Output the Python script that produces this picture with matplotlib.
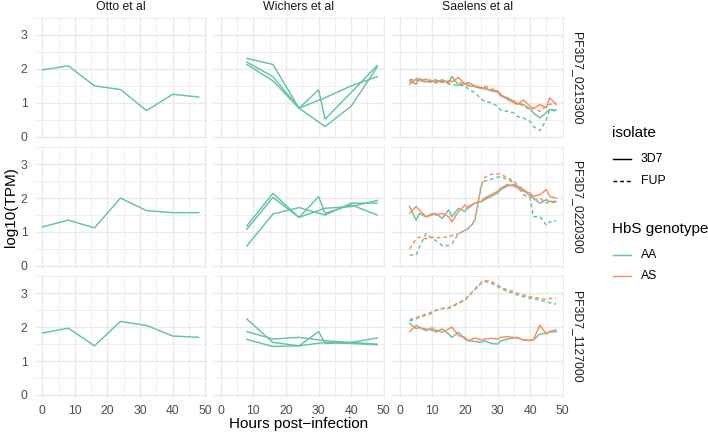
import matplotlib
matplotlib.use("Agg")
import matplotlib.pyplot as plt
from matplotlib.lines import Line2D

plt.rcParams['font.family'] = ['Liberation Sans', 'DejaVu Sans']

# ---------------- data ----------------
studies = ["Otto et al", "Wichers et al", "Saelens et al"]
genes = ["PF3D7_0215300", "PF3D7_0220300", "PF3D7_1127000"]

# Otto et al (single AA 3D7 series)
otto_t = [0, 8, 16, 24, 32, 40, 48]
otto_g1 = [1.97, 2.09, 1.50, 1.39, 0.77, 1.25, 1.17]
otto_g2 = [1.15, 1.35, 1.12, 2.00, 1.63, 1.57, 1.57]
otto_g3 = [1.83, 1.97, 1.45, 2.17, 2.05, 1.74, 1.70]

# Wichers et al (three AA 3D7 replicates)
wich_t_a = [8, 16, 24, 30, 32, 40, 48]
wich_t_b = [8, 16, 24, 32, 40, 48]
wich_g1_a = [2.31, 2.13, 0.84, 1.38, 0.52, 1.30, 2.10]
wich_g1_b = [2.20, 1.77, 0.84, 1.15, 1.50, 1.77]
wich_g1_c = [2.13, 1.65, 0.84, 0.30, 0.90, 2.05]
wich_g2_a = [1.18, 2.14, 1.43, 2.04, 1.55, 1.80, 1.50]
wich_g2_b = [1.08, 2.02, 1.43, 1.70, 1.75, 1.93]
wich_g2_c = [0.59, 1.53, 1.72, 1.50, 1.85, 1.85]
wich_g3_a = [2.24, 1.55, 1.45, 1.87, 1.52, 1.55, 1.50]
wich_g3_b = [1.87, 1.65, 1.70, 1.60, 1.55, 1.68]
wich_g3_c = [1.64, 1.43, 1.45, 1.55, 1.52, 1.48]

# Saelens et al (3D7 / FUP isolates x AA / AS genotypes)
sael_t = [3, 5, 6, 8, 10, 11, 13, 15, 16, 18, 20, 21, 23, 25, 26, 28, 30, 31,
          33, 35, 36, 38, 40, 41, 43, 45, 46, 48]
sael_g1_3d7_aa = [1.65, 1.55, 1.72, 1.62, 1.65, 1.60, 1.68, 1.58, 1.78, 1.52, 1.58, 1.50, 1.48, 1.42,
                  1.45, 1.35, 1.32, 1.20, 1.15, 1.05, 0.98, 0.95, 0.82, 0.70, 0.55, 0.72, 0.80, 0.78]
sael_g1_3d7_as = [1.55, 1.70, 1.65, 1.70, 1.62, 1.68, 1.60, 1.65, 1.62, 1.75, 1.55, 1.60, 1.50, 1.45,
                  1.40, 1.38, 1.35, 1.25, 1.10, 1.00, 0.95, 1.08, 0.90, 0.82, 0.95, 0.85, 1.15, 0.95]
sael_g1_fup_aa = [1.70, 1.65, 1.70, 1.60, 1.62, 1.58, 1.65, 1.55, 1.55, 1.50, 1.52, 1.40, 1.30, 1.10,
                  1.05, 1.00, 0.90, 0.78, 0.75, 0.70, 0.60, 0.55, 0.45, 0.30, 0.18, 0.50, 0.80, 0.75]
sael_g1_fup_as = [1.60, 1.72, 1.65, 1.62, 1.70, 1.65, 1.60, 1.62, 1.68, 1.60, 1.55, 1.55, 1.48, 1.45,
                  1.50, 1.42, 1.35, 1.22, 1.10, 1.05, 1.00, 0.90, 0.80, 0.85, 0.75, 0.90, 0.95, 1.00]
sael_g2_3d7_aa = [1.75, 1.35, 1.55, 1.45, 1.50, 1.55, 1.40, 1.65, 1.45, 1.70, 1.60, 1.75, 1.85, 1.90,
                  1.95, 2.05, 2.15, 2.25, 2.35, 2.40, 2.35, 2.25, 2.05, 2.00, 1.85, 1.95, 1.90, 1.90]
sael_g2_3d7_as = [1.55, 1.75, 1.65, 1.45, 1.55, 1.50, 1.55, 1.45, 1.30, 1.60, 1.80, 1.70, 1.85, 1.90,
                  2.00, 2.10, 2.20, 2.30, 2.40, 2.35, 2.30, 2.20, 2.15, 2.05, 2.10, 2.25, 2.05, 2.00]
sael_g2_fup_aa = [0.32, 0.32, 0.55, 0.95, 0.80, 0.75, 0.60, 0.60, 0.65, 0.95, 1.05, 1.10, 1.30, 2.35,
                  2.50, 2.55, 2.62, 2.62, 2.55, 2.45, 2.35, 2.10, 2.00, 1.45, 1.45, 1.20, 1.30, 1.33]
sael_g2_fup_as = [0.50, 0.80, 0.85, 0.80, 0.85, 0.82, 0.85, 0.85, 0.90, 0.95, 1.05, 1.10, 1.35, 2.40,
                  2.60, 2.70, 2.72, 2.70, 2.60, 2.50, 2.40, 2.25, 2.10, 1.95, 2.00, 1.85, 1.90, 1.85]
sael_g3_3d7_aa = [2.11, 1.96, 2.00, 1.90, 1.98, 1.85, 1.95, 1.80, 1.70, 1.85, 1.65, 1.60, 1.58, 1.55,
                  1.60, 1.52, 1.50, 1.60, 1.65, 1.68, 1.70, 1.62, 1.60, 1.62, 1.80, 1.82, 1.85, 1.87]
sael_g3_3d7_as = [1.87, 2.06, 1.98, 1.95, 1.90, 1.92, 1.85, 1.95, 2.00, 1.75, 1.70, 1.60, 1.68, 1.62,
                  1.65, 1.67, 1.65, 1.70, 1.72, 1.70, 1.68, 1.62, 1.62, 1.63, 2.06, 1.80, 1.88, 1.92]
sael_g3_fup_aa = [2.18, 2.25, 2.30, 2.35, 2.42, 2.50, 2.55, 2.55, 2.60, 2.70, 2.80, 2.90, 3.10, 3.30,
                  3.35, 3.30, 3.20, 3.15, 3.05, 3.00, 2.95, 2.90, 2.85, 2.85, 2.80, 2.75, 2.72, 2.68]
sael_g3_fup_as = [2.22, 2.28, 2.32, 2.38, 2.45, 2.48, 2.55, 2.58, 2.62, 2.72, 2.82, 2.92, 3.12, 3.32,
                  3.38, 3.35, 3.25, 3.18, 3.10, 3.05, 3.00, 2.95, 2.90, 2.88, 2.85, 2.82, 2.85, 2.85]

x_ticks = [0, 10, 20, 30, 40, 50]
y_ticks = [0, 1, 2, 3]

# ---------------- styling ----------------
C_AA = "#66C2A5"
C_AS = "#FC8D62"
LS_3D7 = "-"
LS_FUP = (0, (2.6, 2.0))
LW = 1.05
GRID = "#EBEBEB"

W, H = 708, 434
fig = plt.figure(figsize=(W / 100, H / 100), dpi=100)

col_left = [34.5, 213.0, 392.0]
col_w = 172.0
row_top = [17.0, 146.2, 275.3]
row_h = 122.4


def make_ax(r, c):
    l, t = col_left[c], row_top[r]
    ax = fig.add_axes([l / W, 1 - (t + row_h) / H, col_w / W, row_h / H])
    ax.set_xlim(-2.4, 50.4)
    ax.set_ylim(-0.08, 3.53)
    ax.set_xticks(x_ticks)
    ax.set_yticks(y_ticks)
    ax.set_xticks([5, 15, 25, 35, 45], minor=True)
    ax.set_yticks([0.5, 1.5, 2.5, 3.5], minor=True)
    ax.grid(True, which="major", color=GRID, lw=1.05)
    ax.grid(True, which="minor", color=GRID, lw=0.55)
    ax.set_axisbelow(True)
    for s in ax.spines.values():
        s.set_visible(False)
    ax.tick_params(which="both", length=0, labelsize=8.8, labelcolor="#4D4D4D", pad=5)
    if r != 2:
        ax.set_xticklabels([])
    if c != 0:
        ax.set_yticklabels([])
    return ax


otto = [otto_g1, otto_g2, otto_g3]
wich = [(wich_g1_a, wich_g1_b, wich_g1_c),
        (wich_g2_a, wich_g2_b, wich_g2_c),
        (wich_g3_a, wich_g3_b, wich_g3_c)]
sael = [(sael_g1_3d7_aa, sael_g1_3d7_as, sael_g1_fup_aa, sael_g1_fup_as),
        (sael_g2_3d7_aa, sael_g2_3d7_as, sael_g2_fup_aa, sael_g2_fup_as),
        (sael_g3_3d7_aa, sael_g3_3d7_as, sael_g3_fup_aa, sael_g3_fup_as)]

for r in range(3):
    ax = make_ax(r, 0)
    ax.plot(otto_t, otto[r], color=C_AA, lw=LW, ls=LS_3D7)

    ax = make_ax(r, 1)
    a, b, c = wich[r]
    ax.plot(wich_t_a, a, color=C_AA, lw=LW, ls=LS_3D7)
    ax.plot(wich_t_b, b, color=C_AA, lw=LW, ls=LS_3D7)
    ax.plot(wich_t_b, c, color=C_AA, lw=LW, ls=LS_3D7)

    ax = make_ax(r, 2)
    s_aa, s_as, f_aa, f_as = sael[r]
    ax.plot(sael_t, f_aa, color=C_AA, lw=LW, ls=LS_FUP)
    ax.plot(sael_t, s_aa, color=C_AA, lw=LW, ls=LS_3D7)
    ax.plot(sael_t, f_as, color=C_AS, lw=LW, ls=LS_FUP)
    ax.plot(sael_t, s_as, color=C_AS, lw=LW, ls=LS_3D7)

# strip labels
for c, name in enumerate(studies):
    fig.text((col_left[c] + col_w / 2) / W, 1 - 7 / H, name, ha="center", va="center",
             fontsize=8.8, color="#1A1A1A")
for r, g in enumerate(genes):
    fig.text(577 / W, 1 - (row_top[r] + row_h / 2) / H, g, ha="center", va="center",
             rotation=-90, fontsize=8.8, color="#1A1A1A")

# axis titles
fig.text(11 / W, 1 - 207 / H, "log10(TPM)", rotation=90, ha="center", va="center",
         fontsize=11, color="black")
fig.text(299 / W, 1 - 424 / H, "Hours post\u2212infection", ha="center", va="center",
         fontsize=11, color="black")

# legend (drawn manually)
def legend_title(y, txt):
    fig.text(612 / W, 1 - y / H, txt, ha="left", va="center", fontsize=11, color="black")


def legend_item(y, txt, color, ls):
    fig.add_artist(Line2D([613 / W, 631 / W], [1 - y / H, 1 - y / H], color=color, lw=LW, ls=ls,
                          transform=fig.transFigure))
    fig.text(641 / W, 1 - y / H, txt, ha="left", va="center", fontsize=8.8, color="black")


legend_title(133, "isolate")
legend_item(159, "3D7", "black", LS_3D7)
legend_item(181, "FUP", "black", LS_FUP)
legend_title(229, "HbS genotype")
legend_item(255, "AA", C_AA, LS_3D7)
legend_item(276, "AS", C_AS, LS_3D7)

fig.savefig("out.png", dpi=100)
